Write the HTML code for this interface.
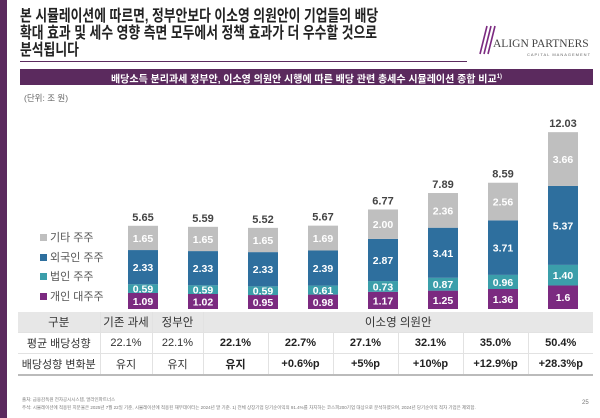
<!DOCTYPE html>
<html><head><meta charset="utf-8"><style>
body{margin:0;width:600px;height:418px;background:#fff;position:relative;overflow:hidden;font-family:"Liberation Sans","Noto Sans CJK KR",sans-serif}
.abs{position:absolute}
table{border-collapse:collapse;position:absolute;left:18px;top:312px;width:575px;font-size:11px;color:#333}
td{text-align:center;height:20px;padding:0;border-bottom:1px solid #e2e2e2;border-right:1px solid #e2e2e2}
td:last-child{border-right:none}
tr.h td{background:#e7e7e7;font-size:11.5px}
tr.last td{border-bottom:2px solid #bbb}
td.b{font-weight:bold;color:#222}
</style></head><body>
<div class="abs" style="left:0;top:0;width:7px;height:418px;background:#5b2a5e"></div>
<div class="abs" style="left:20px;top:8px;font-size:16px;line-height:17px;color:#222;font-weight:bold;white-space:nowrap;transform:scaleX(0.8);transform-origin:0 0">본 시뮬레이션에 따르면, 정부안보다 이소영 의원안이 기업들의 배당<br>확대 효과 및 세수 영향 측면 모두에서 정책 효과가 더 우수할 것으로<br>분석됩니다</div>
<div class="abs" style="left:20px;top:61px;width:447px;height:1px;background:#5b2a5e"></div>
<div class="abs" style="left:472px;top:24px;width:122px;height:32px">
<svg width="30" height="32"><g stroke="#7b2a80" stroke-width="1.6"><line x1="8" y1="30" x2="15" y2="2"/><line x1="12" y1="30" x2="19" y2="2"/><line x1="16" y1="30" x2="23" y2="2"/></g></svg>
<div class="abs" style="left:21px;top:14px;font-family:'Liberation Serif',serif;font-size:11.5px;color:#444;white-space:nowrap">ALIGN PARTNERS</div>
<div class="abs" style="left:55px;top:28px;font-size:4px;color:#666;letter-spacing:1px;white-space:nowrap">CAPITAL MANAGEMENT</div>
</div>
<div class="abs" style="left:20px;top:69px;width:573px;height:16px;background:#5b2a5e;color:#fff;font-size:10px;font-weight:bold;line-height:16px;text-align:center">배당소득 분리과세 정부안, 이소영 의원안 시행에 따른 배당 관련 총세수 시뮬레이션 종합 비교<sup style="font-size:6px">1)</sup></div>
<div class="abs" style="left:24px;top:92px;font-size:8.5px;color:#666">(단위: 조 원)</div>
<div class="abs" style="left:40px;top:229px;font-size:11px;color:#555;line-height:19.5px">
<div><span style="display:inline-block;width:7px;height:7px;background:#bfbfbf;margin-right:3px"></span>기타 주주</div>
<div><span style="display:inline-block;width:7px;height:7px;background:#2e6f9e;margin-right:3px"></span>외국인 주주</div>
<div><span style="display:inline-block;width:7px;height:7px;background:#3b9eaa;margin-right:3px"></span>법인 주주</div>
<div><span style="display:inline-block;width:7px;height:7px;background:#7b2a80;margin-right:3px"></span>개인 대주주</div>
</div>
<svg id="chart" class="abs" style="left:0;top:0" width="600" height="418"></svg>
<table>
<colgroup><col style="width:82px"><col style="width:52px"><col style="width:51px"><col span="6" style="width:65px"></colgroup>
<tr class="h"><td>구분</td><td>기존 과세</td><td>정부안</td><td colspan="6">이소영 의원안</td></tr>
<tr><td>평균 배당성향</td><td>22.1%</td><td>22.1%</td><td class="b">22.1%</td><td class="b">22.7%</td><td class="b">27.1%</td><td class="b">32.1%</td><td class="b">35.0%</td><td class="b">50.4%</td></tr>
<tr class="last"><td>배당성향 변화분</td><td>유지</td><td>유지</td><td class="b">유지</td><td class="b">+0.6%p</td><td class="b">+5%p</td><td class="b">+10%p</td><td class="b">+12.9%p</td><td class="b">+28.3%p</td></tr>
</table>
<div class="abs" style="left:22px;top:396px;font-size:4.5px;color:#777;line-height:8px">출처: 금융감독원 전자공시시스템, 얼라인파트너스<br>주석: 시뮬레이션에 적용된 지분율은 2025년 7월 22일 기준, 시뮬레이션에 적용된 재무데이터는 2024년 말 기준. 1) 전체 상장기업 당기순이익의 91.4%를 차지하는 코스피200기업 대상으로 분석하였으며, 2024년 당기순이익 적자 기업은 제외함.</div>
<div class="abs" style="left:582px;top:400px;font-size:6px;color:#777">25</div>
<script>
const individual=[1.09,1.02,0.95,0.98,1.17,1.25,1.36,1.6];
const corporate=[0.59,0.59,0.59,0.61,0.73,0.87,0.96,1.40];
const foreign=[2.33,2.33,2.33,2.39,2.87,3.41,3.71,5.37];
const other=[1.65,1.65,1.65,1.69,2.00,2.36,2.56,3.66];
const totals=[5.65,5.59,5.52,5.67,6.77,7.89,8.59,12.03];
const indivLabels=["1.09","1.02","0.95","0.98","1.17","1.25","1.36","1.6"];
const corpLabels=["0.59","0.59","0.59","0.61","0.73","0.87","0.96","1.40"];
const forLabels=["2.33","2.33","2.33","2.39","2.87","3.41","3.71","5.37"];
const othLabels=["1.65","1.65","1.65","1.69","2.00","2.36","2.56","3.66"];
const totLabels=["5.65","5.59","5.52","5.67","6.77","7.89","8.59","12.03"];
const svg=document.getElementById('chart');
const NS='http://www.w3.org/2000/svg';
const base=309, k=14.7;
function y(v){return base-v*k;}
function xc(i){return 143+i*60;}
const series=[[individual,'#7b2a80',indivLabels,'individual'],[corporate,'#3b9eaa',corpLabels,'corporate'],[foreign,'#2e6f9e',forLabels,'foreign'],[other,'#bfbfbf',othLabels,'other']];
for(let i=0;i<totals.length;i++){
  let cum=0;
  for(const [vals,col,labs,nm] of series){
    const v=vals[i];
    const r=document.createElementNS(NS,'rect');
    r.setAttribute('x',xc(i)-15);r.setAttribute('width',30);
    r.setAttribute('y',y(cum+v));r.setAttribute('height',v*k);
    r.setAttribute('fill',col);
    
    
    svg.appendChild(r);
    const t=document.createElementNS(NS,'text');
    t.setAttribute('x',xc(i));t.setAttribute('y',y(cum+v/2)+4);
    t.setAttribute('text-anchor','middle');t.setAttribute('fill','#fff');
    t.setAttribute('font-size','10.5');t.setAttribute('font-weight','bold');
    t.setAttribute('font-family','Liberation Sans, sans-serif');
    t.textContent=labs[i];
    
    
    svg.appendChild(t);
    cum+=v;
  }
  const tt=document.createElementNS(NS,'text');
  tt.setAttribute('x',xc(i));tt.setAttribute('y',y(totals[i])-5);
  tt.setAttribute('text-anchor','middle');tt.setAttribute('fill','#444');
  tt.setAttribute('font-size','11');tt.setAttribute('font-weight','bold');
  tt.setAttribute('font-family','Liberation Sans, sans-serif');
  tt.textContent=totLabels[i];
  
  
  svg.appendChild(tt);
}
</script>
</body></html>
